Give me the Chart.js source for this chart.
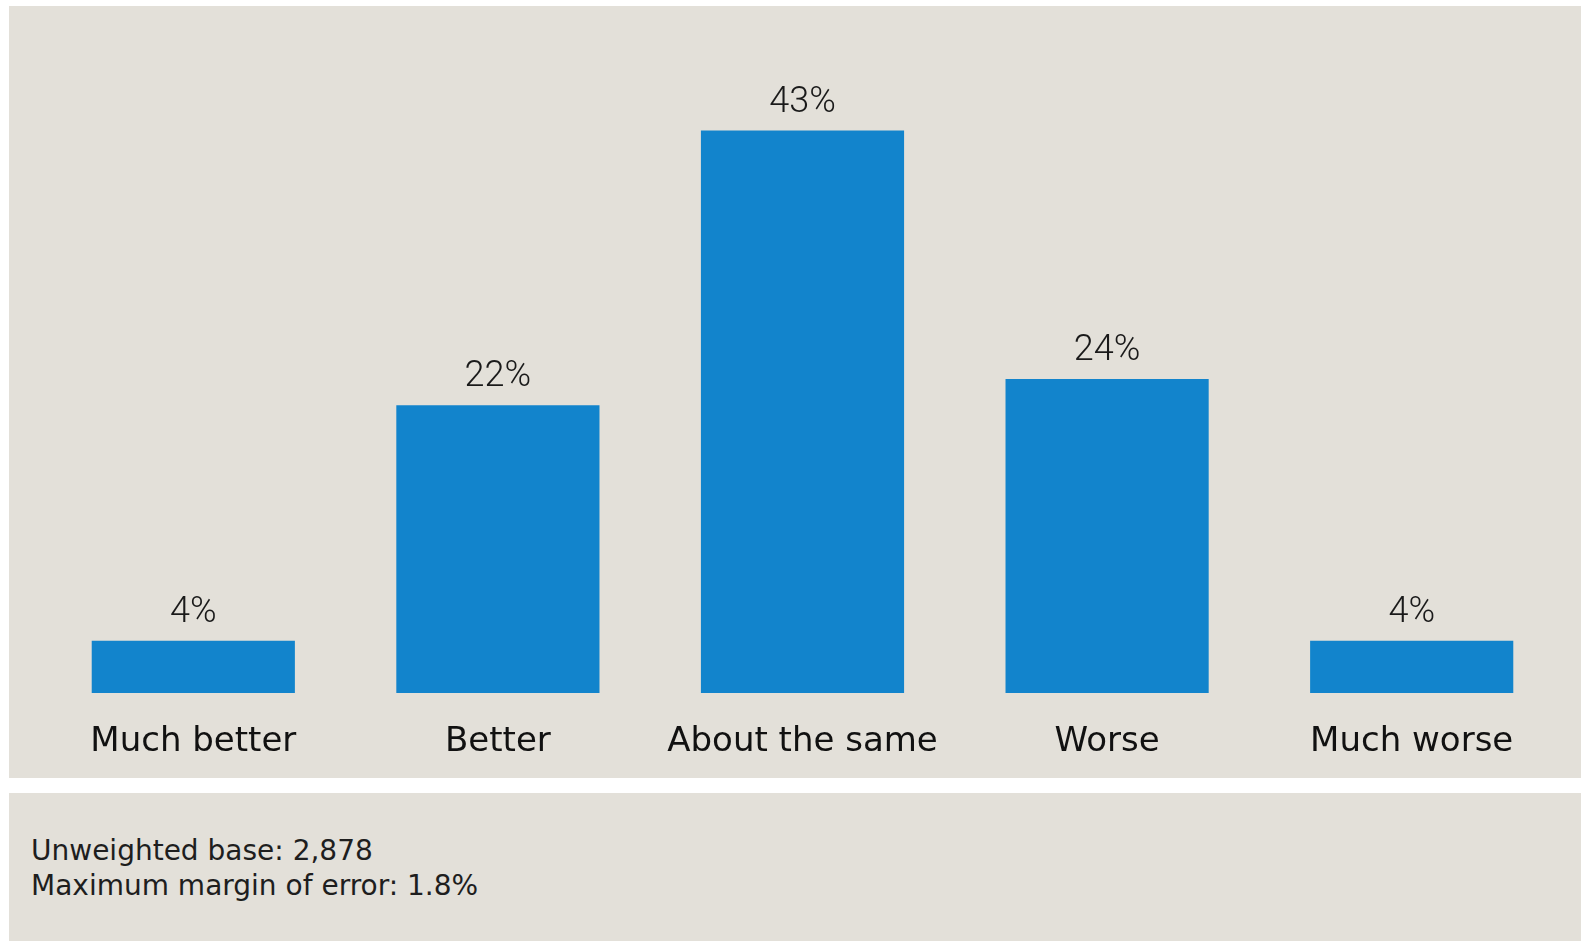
<!DOCTYPE html>
<html>
<head>
<meta charset="utf-8">
<script src="https://cdn.jsdelivr.net/npm/chart.js@4.4.1/dist/chart.umd.min.js"></script>
<style>
  body { margin: 0; background: #ffffff; }
  .panel { position: absolute; left: 9px; width: 1572px; background: #e3e0d9; }
  #top { top: 6px; height: 772px; }
  #bottom { top: 793px; height: 148px; }
  #note {
    position: absolute; left: 22px; top: 40px;
    font: 28px "DejaVu Sans", sans-serif; line-height: 35px; color: #1e1e1e;
  }
</style>
</head>
<body>
<div class="panel" id="top"><canvas id="responseChart"></canvas></div>
<div class="panel" id="bottom">
  <div id="note">Unweighted base: 2,878<br>Maximum margin of error: 1.8%</div>
</div>
<script>
// answers and shares (%)
const categories = ['Much better', 'Better', 'About the same', 'Worse', 'Much worse'];
const shares = [4, 22, 43, 24, 4];

// draws the "43%" style labels above each bar
const valueLabels = {
  id: 'valueLabels',
  afterDatasetsDraw(chart) {
    const ctx = chart.ctx;
    const meta = chart.getDatasetMeta(0);
    ctx.save();
    ctx.font = '300 36px Roboto, sans-serif';
    ctx.fillStyle = '#1a1a1a';
    ctx.textAlign = 'center';
    ctx.textBaseline = 'alphabetic';
    meta.data.forEach((bar, i) => {
      ctx.fillText(shares[i] + '%', bar.x, bar.y - 19);
    });
    ctx.restore();
  }
};

const ctx = document.getElementById('responseChart').getContext('2d');
new Chart(ctx, {
  type: 'bar',
  data: {
    labels: categories,
    datasets: [{
      data: shares,
      backgroundColor: '#1284cc',
      borderWidth: 0,
      barPercentage: 1,
      categoryPercentage: 0.667
    }]
  },
  options: {
    responsive: true,
    maintainAspectRatio: false,
    animation: false,
    layout: { padding: { left: 32, right: 17, top: 33, bottom: 0 } },
    plugins: {
      legend: { display: false },
      tooltip: { enabled: false }
    },
    scales: {
      x: {
        grid: { display: false, drawTicks: false },
        border: { display: false },
        afterFit(scale) { scale.height = 85; },
        ticks: {
          color: '#111111',
          padding: 29,
          font: { family: 'DejaVu Sans', size: 34 }
        }
      },
      y: {
        display: false,
        min: 0,
        max: 50
      }
    }
  },
  plugins: [valueLabels]
});
</script>
</body>
</html>
